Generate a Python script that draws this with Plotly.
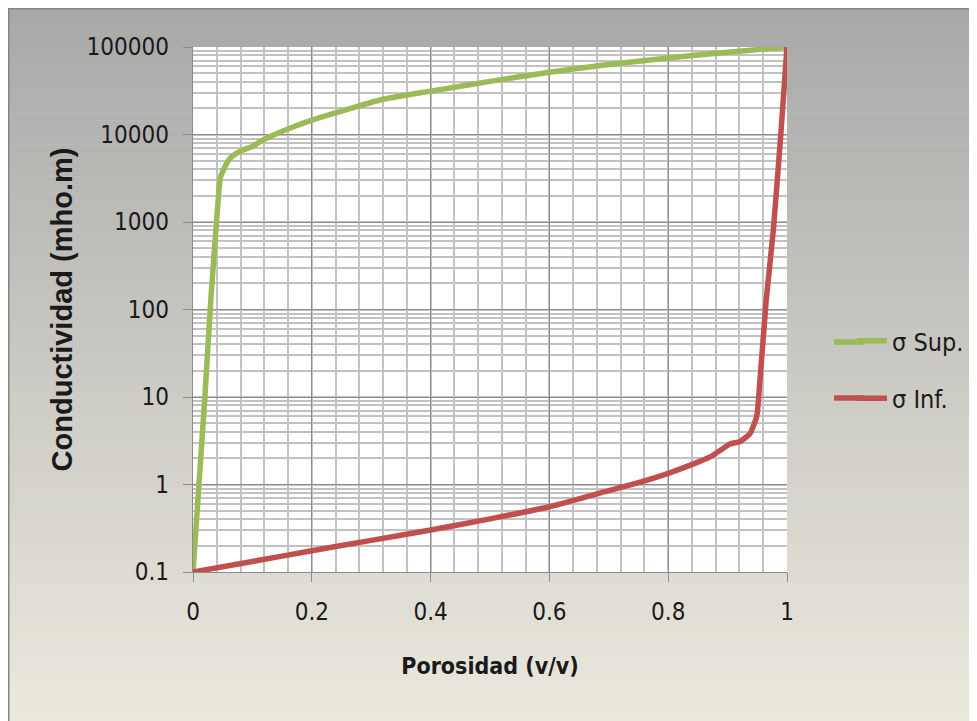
import plotly.graph_objects as go

# ---- data ----
phi_sup = [0.0, 0.02, 0.03, 0.04, 0.046, 0.051, 0.062, 0.075, 0.09, 0.1, 0.113, 0.13,
           0.163, 0.2, 0.26, 0.315, 0.39, 0.5, 0.6, 0.7, 0.8, 0.9, 1.0]
sig_sup = [0.1, 10, 130, 1100, 3200, 3900, 5300, 6200, 6900, 7300, 8300, 9500,
           11800, 14600, 19400, 24800, 30500, 40500, 51500, 63000, 75000, 87000, 100000]

phi_inf = [0.0, 0.1, 0.2, 0.3, 0.4, 0.5, 0.6, 0.7, 0.75, 0.8, 0.85, 0.876, 0.904,
           0.921, 0.938, 0.949, 0.9545, 0.965, 0.977, 0.99, 1.0]
sig_inf = [0.1, 0.132, 0.175, 0.23, 0.302, 0.405, 0.557, 0.85, 1.05, 1.34, 1.8, 2.17, 2.9,
           3.1, 3.85, 6.0, 15.6, 128, 811, 11000, 100000]

series_names = ["σ Sup.", "σ Inf."]
series_colors = ["#9bbb59", "#c0504d"]

y_tickvals = [0.1, 1, 10, 100, 1000, 10000, 100000]
y_ticktext = ["0.1", "1", "10", "100", "1000", "10000", "100000"]
x_tickvals = [0, 0.2, 0.4, 0.6, 0.8, 1]
x_ticktext = ["0", "0.2", "0.4", "0.6", "0.8", "1"]

# page body adds an 8 px offset; figure coordinates below are relative to the figure
W, H = 977, 721
ML, MR, MT, MB = 185, 198, 39, 157
PW, PH = W - ML - MR, H - MT - MB

def px_x(px):
    return (px - ML) / PW

def px_y(py):
    return (H - MB - py) / PH

NARROW = "Liberation Sans Narrow, DejaVu Sans Condensed, Liberation Sans, sans-serif"

fig = go.Figure()
for name, xs, ys, col, grp in [(series_names[0], phi_sup, sig_sup, series_colors[0], "a"),
                               (series_names[1], phi_inf, sig_inf, series_colors[1], "b")]:
    fig.add_trace(go.Scatter(x=xs, y=ys, mode="lines", name=name, legendgroup=grp,
                             line=dict(color=col, width=5.5, shape="spline", smoothing=0.5)))

# background gradient (grey -> cream) drawn as thin bands
shapes = []
top_c = (168, 168, 168)
bot_c = (236, 234, 222)
y_top, y_bot = 0, H
n = 90
for i in range(n):
    a = y_top + (y_bot - y_top) * i / n
    b = y_top + (y_bot - y_top) * (i + 1) / n
    t = (i + 0.5) / n
    c = tuple(round(top_c[k] + (bot_c[k] - top_c[k]) * t) for k in range(3))
    shapes.append(dict(type="rect", xref="paper", yref="paper", layer="below",
                       x0=px_x(0), x1=px_x(W + 2), y0=px_y(b + 0.6), y1=px_y(a),
                       line=dict(width=0), fillcolor="rgb(%d,%d,%d)" % c))
# white plot area on top of the gradient
shapes.append(dict(type="rect", xref="paper", yref="paper", layer="below",
                   x0=0, x1=1, y0=0, y1=1, line=dict(width=0), fillcolor="white"))
# frame border (left and top)
shapes.append(dict(type="line", xref="paper", yref="paper", layer="below",
                   x0=px_x(0.5), x1=px_x(0.5), y0=px_y(H + 2), y1=px_y(0),
                   line=dict(color="#858585", width=2)))
shapes.append(dict(type="line", xref="paper", yref="paper", layer="below",
                   x0=px_x(0), x1=px_x(W + 2), y0=px_y(0.5), y1=px_y(0.5),
                   line=dict(color="#858585", width=2)))
# longer legend keys (extend the legend line symbols to the left)
for col, yy in zip(series_colors, [334, 390]):
    shapes.append(dict(type="line", xref="paper", yref="paper", layer="above",
                       x0=px_x(826), x1=px_x(856), y0=px_y(yy), y1=px_y(yy),
                       line=dict(color=col, width=5.5)))

grid_major = "#8c8c8c"
grid_minor = "#c2c2c2"

fig.update_layout(
    width=W, height=H,
    margin=dict(l=ML, r=MR, t=MT, b=MB, pad=0),
    paper_bgcolor="white",
    plot_bgcolor="white",
    shapes=shapes,
    showlegend=True,
    legend=dict(x=px_x(844), y=px_y(310), xanchor="left", yanchor="top",
                bgcolor="rgba(0,0,0,0)", font=dict(family=NARROW, size=25, color="#1a1a1a"),
                traceorder="grouped", tracegroupgap=22, itemwidth=30),
    xaxis=dict(range=[0, 1], tickvals=x_tickvals, ticktext=x_ticktext,
               showgrid=True, gridcolor=grid_major, gridwidth=1.4,
               minor=dict(dtick=0.04, showgrid=True, gridcolor=grid_minor, gridwidth=2,
                          ticks=""),
               showline=True, linecolor=grid_major, linewidth=1.4,
               ticks="outside", ticklen=9, tickcolor=grid_major, tickwidth=1.4,
               ticklabelstandoff=9,
               tickfont=dict(family=NARROW, size=24, color="#1a1a1a"),
               zeroline=False,
               title=dict(text="<b>Porosidad (v/v)</b>", standoff=32,
                          font=dict(family=NARROW, size=23, color="#1a1a1a"))),
    yaxis=dict(type="log", range=[-1, 5], tickvals=y_tickvals, ticktext=y_ticktext,
               showgrid=True, gridcolor=grid_major, gridwidth=1.4,
               minor=dict(dtick="D1", showgrid=True, gridcolor=grid_minor, gridwidth=2,
                          ticks=""),
               showline=True, linecolor=grid_major, linewidth=1.4,
               ticks="outside", ticklen=9, tickcolor=grid_major, tickwidth=1.4,
               ticklabelstandoff=9,
               tickfont=dict(family=NARROW, size=24, color="#1a1a1a"),
               zeroline=False,
               title=dict(text="<b>Conductividad (mho.m)</b>", standoff=5,
                          font=dict(family="Liberation Sans, Arial, sans-serif", size=29,
                                    color="#1a1a1a"))),
)

fig.write_html("out.html")
